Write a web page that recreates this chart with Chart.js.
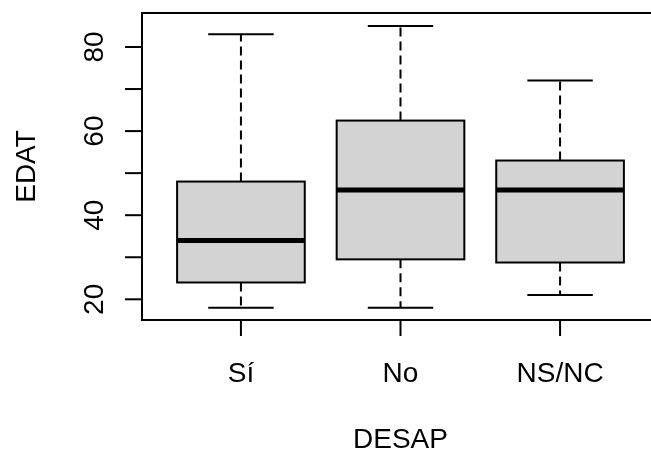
<!DOCTYPE html>
<html>
<head>
<meta charset="utf-8">
<script src="https://cdn.jsdelivr.net/npm/chart.js@4"></script>
<style>
  html, body { margin: 0; padding: 0; background: #fff; overflow: hidden; }
  #wrap { width: 651px; height: 450px; overflow: hidden; }
</style>
</head>
<body>
<div id="wrap"><canvas id="boxChart" width="670" height="450"></canvas></div>
<script>
// Données du boxplot EDAT ~ DESAP
const categories = ['Sí', 'No', 'NS/NC'];
const mins    = [18, 18, 21];
const q1s     = [24, 29.5, 28.75];
const medians = [34, 46, 46];
const q3s     = [48, 62.5, 53];
const maxs    = [83, 85, 72];

const yTicks = [20, 30, 40, 50, 60, 70, 80];
const yTickLabels = ['20', '', '40', '', '60', '', '80'];

const FONT = '28px "Liberation Sans", Arial, sans-serif';

// Plugin qui dessine les boîtes, les axes et les textes à la manière de R
const boxplotPlugin = {
    id: 'boxplotR',
    afterDraw(chart) {
        const ctx = chart.ctx;
        const xs = chart.scales.x;
        const ys = chart.scales.y;
        const area = chart.chartArea;
        const unit = xs.getPixelForValue(1) - xs.getPixelForValue(0);

        ctx.save();
        ctx.strokeStyle = '#000';
        ctx.lineCap = 'butt';

        categories.forEach((cat, i) => {
            const cx = xs.getPixelForValue(i + 1);
            const half = unit * 0.4;
            const staple = unit * 0.205;
            const yMin = ys.getPixelForValue(mins[i]);
            const yQ1 = ys.getPixelForValue(q1s[i]);
            const yMed = ys.getPixelForValue(medians[i]);
            const yQ3 = ys.getPixelForValue(q3s[i]);
            const yMax = ys.getPixelForValue(maxs[i]);

            // moustaches en pointillés
            ctx.lineWidth = 2;
            ctx.setLineDash([9, 5]);
            ctx.beginPath();
            ctx.moveTo(cx, yQ3); ctx.lineTo(cx, yMax);
            ctx.moveTo(cx, yQ1); ctx.lineTo(cx, yMin);
            ctx.stroke();
            ctx.setLineDash([]);

            // extrémités
            ctx.beginPath();
            ctx.moveTo(cx - staple, yMax); ctx.lineTo(cx + staple, yMax);
            ctx.moveTo(cx - staple, yMin); ctx.lineTo(cx + staple, yMin);
            ctx.stroke();

            // boîte
            ctx.fillStyle = '#d3d3d3';
            ctx.fillRect(cx - half, yQ3, half * 2, yQ1 - yQ3);
            ctx.strokeRect(cx - half, yQ3, half * 2, yQ1 - yQ3);

            // médiane
            ctx.lineWidth = 5;
            ctx.beginPath();
            ctx.moveTo(cx - half, yMed); ctx.lineTo(cx + half, yMed);
            ctx.stroke();
        });

        // cadre
        ctx.lineWidth = 2;
        ctx.strokeRect(area.left, area.top, area.right - area.left, area.bottom - area.top);

        // graduations X
        ctx.fillStyle = '#000';
        ctx.font = FONT;
        ctx.textAlign = 'center';
        ctx.textBaseline = 'alphabetic';
        categories.forEach((cat, i) => {
            const cx = xs.getPixelForValue(i + 1);
            ctx.beginPath();
            ctx.moveTo(cx, area.bottom); ctx.lineTo(cx, area.bottom + 16);
            ctx.stroke();
            ctx.fillText(cat, cx, 382);
        });

        // graduations Y (texte vertical)
        yTicks.forEach((v, i) => {
            const y = ys.getPixelForValue(v);
            ctx.beginPath();
            ctx.moveTo(area.left, y); ctx.lineTo(area.left - 17, y);
            ctx.stroke();
            if (yTickLabels[i]) {
                ctx.save();
                ctx.translate(103, y);
                ctx.rotate(-Math.PI / 2);
                ctx.fillText(yTickLabels[i], 0, 0);
                ctx.restore();
            }
        });

        // titres des axes
        ctx.fillText('DESAP', (area.left + area.right) / 2, 448);
        ctx.save();
        ctx.translate(35, (area.top + area.bottom) / 2);
        ctx.rotate(-Math.PI / 2);
        ctx.fillText('EDAT', 0, 0);
        ctx.restore();

        ctx.restore();
    }
};

new Chart(document.getElementById('boxChart'), {
    type: 'scatter',
    data: { datasets: [] },
    options: {
        responsive: false,
        animation: false,
        devicePixelRatio: 1,
        layout: { padding: { top: 13, right: 11, left: 0, bottom: 0 } },
        plugins: { legend: { display: false }, tooltip: { enabled: false } },
        scales: {
            x: {
                type: 'linear', min: 0.38, max: 3.62,
                grid: { display: false }, border: { display: false },
                ticks: { display: false },
                afterFit: (s) => { s.height = 130; }
            },
            y: {
                type: 'linear', min: 15.08, max: 88.08,
                grid: { display: false }, border: { display: false },
                ticks: { display: false },
                afterFit: (s) => { s.width = 142; }
            }
        }
    },
    plugins: [boxplotPlugin]
});
</script>
</body>
</html>
